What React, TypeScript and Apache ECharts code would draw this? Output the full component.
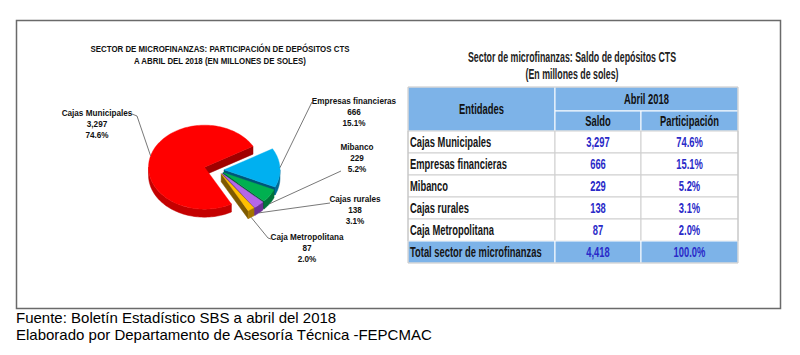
import React, { useEffect, useRef } from "react";
import * as echarts from "echarts";

// ---------------- data ----------------
const categories = ["Cajas Municipales", "Empresas financieras", "Mibanco", "Cajas rurales", "Caja Metropolitana"];
const saldo = [3297, 666, 229, 138, 87];
const participacion = [74.6, 15.1, 5.2, 3.1, 2.0];
const totalLabel = "Total sector de microfinanzas";
const totalSaldo = 4418;
const totalParticipacion = 100.0;
const pieTitle = ["SECTOR DE MICROFINANZAS: PARTICIPACIÓN DE DEPÓSITOS CTS", "A ABRIL DEL 2018 (EN MILLONES DE SOLES)"];
const tableTitle = ["Sector de microfinanzas: Saldo de depósitos CTS", "(En millones de soles)"];
const headerEntity = "Entidades";
const headerPeriod = "Abril 2018";
const headerSaldo = "Saldo";
const headerPart = "Participación";
const footerLines = ["Fuente: Boletín Estadístico SBS a abril del 2018", "Elaborado por Departamento de Asesoría Técnica -FEPCMAC"];

// ---------------- styles / layout ----------------
const sliceColors = ["#ff0000", "#00b0f0", "#00b050", "#b566e8", "#ffc000"];
const sideColors = ["#c40000", "#006b96", "#00743a", "#6e3196", "#a37500"];
const radialColors = ["#a00000", "#005478", "#005a2c", "#57247a", "#7e5a00"];
const PIE = { cx: 218, cy: 170, rx: 56, ry: 42, depth: 8, splitAngle: 30 };
const explodeDist = [14, 6, 6, 6, 6];
const labelCenters = [[97, 113], [354, 101], [357, 147], [355, 199], [307, 237]];
const leaderStarts = [[[132, 114], [137, 116]], [[312, 102]], [[341, 171]], [[330, 203]], [[271, 239], [268, 238]]];
const labelLineH = 10.8;
const FONT = "'Liberation Sans', Arial, sans-serif";

const T = { left: 408, c1: 555, c2: 641, right: 738, top: 87, h1: 111, h2: 131, rowH: 22 };
const headerBlue = "#7db3e8";
const valueBlue = "#2a2ac8";

const fmtInt = (v: number) => v.toLocaleString("en-US");
const fmtPct = (v: number) => v.toFixed(1) + "%";

const total = saldo.reduce((a, b) => a + b, 0);
const sliceSpans = (() => {
  let a = PIE.splitAngle + (saldo[0] / total) * 360;
  return saldo.map((v) => {
    const a1 = a;
    const a0 = a - (v / total) * 360;
    a = a0;
    return { a0, a1, mid: (a0 + a1) / 2 };
  });
})();

const rad = (d: number) => (d * Math.PI) / 180;

function renderSlice(params: any, api: any) {
  const i = params.dataIndex;
  const { a0, a1, mid } = sliceSpans[i];
  const e = explodeDist[i];
  const cx = PIE.cx + e * Math.cos(rad(mid));
  const cy = PIE.cy - e * Math.sin(rad(mid)) * (PIE.ry / PIE.rx);
  const P = (d: number, dy = 0) => [cx + PIE.rx * Math.cos(rad(d)), cy - PIE.ry * Math.sin(rad(d)) + dy];
  const arcPts = (lo: number, hi: number) => {
    const n = Math.max(3, Math.ceil((hi - lo) / 2));
    const out: number[] = [];
    for (let k = 0; k <= n; k++) out.push(lo + ((hi - lo) * k) / n);
    return out;
  };
  const children: any[] = [];
  // outer wall (front half only)
  for (let k = -2; k <= 2; k++) {
    const lo = Math.max(a0, 180 + 360 * k);
    const hi = Math.min(a1, 360 + 360 * k);
    if (hi > lo) {
      const angs = arcPts(lo, hi);
      const top = angs.map((d) => P(d));
      const bot = angs.slice().reverse().map((d) => P(d, PIE.depth));
      children.push({
        type: "polygon",
        z2: 3,
        shape: { points: top.concat(bot) },
        style: { fill: sideColors[i], stroke: sideColors[i], lineWidth: 0.5 },
      });
    }
  }
  // radial faces
  const radial = (d: number) => ({
    type: "polygon",
    z2: 2,
    shape: { points: [[cx, cy], P(d), P(d, PIE.depth), [cx, cy + PIE.depth]] },
    style: { fill: radialColors[i], stroke: radialColors[i], lineWidth: 0.5 },
  });
  if (Math.cos(rad(a0)) > 0) children.push(radial(a0));
  if (Math.cos(rad(a1)) < 0) children.push(radial(a1));
  // top face
  children.push({
    type: "polygon",
    z2: 10,
    shape: { points: [[cx, cy]].concat(arcPts(a0, a1).map((d) => P(d))) },
    style: { fill: sliceColors[i], stroke: sliceColors[i], lineWidth: 0.4 },
  });
  // leader line
  const anchor = P(mid, Math.sin(rad(mid)) < 0 ? PIE.depth : 0);
  children.push({
    type: "polyline",
    z2: 20,
    shape: { points: leaderStarts[i].concat([anchor]) },
    style: { stroke: "#555", lineWidth: 0.8, fill: null },
  });
  // label text
  const value = api.value(0);
  const lines = [categories[i], fmtInt(value), fmtPct(participacion[i])];
  lines.forEach((t, k) => {
    children.push({
      type: "text",
      z2: 21,
      x: labelCenters[i][0],
      y: labelCenters[i][1] + k * labelLineH,
      scaleX: 0.86,
      style: {
        text: t,
        fill: "#111",
        fontSize: 9.5,
        fontWeight: "bold",
        fontFamily: FONT,
        align: "center",
        verticalAlign: "middle",
        textAlign: "center",
        textVerticalAlign: "middle",
      },
    });
  });
  return { type: "group", children };
}

function txt(text: string, x: number, y: number, o: any = {}) {
  const align = o.align || "left";
  return {
    type: "text",
    x,
    y,
    scaleX: o.scaleX ?? 1,
    z: 10,
    style: {
      text,
      fill: o.fill || "#111",
      fontSize: o.fontSize || 12,
      fontWeight: o.fontWeight || "normal",
      fontFamily: o.fontFamily || FONT,
      align,
      verticalAlign: "middle",
      textAlign: align,
      textVerticalAlign: "middle",
    },
  };
}

function cell(x0: number, y0: number, x1: number, y1: number, fill: string, stroke: string) {
  return {
    type: "rect",
    z: 5,
    shape: { x: x0, y: y0, width: x1 - x0, height: y1 - y0 },
    style: { fill, stroke, lineWidth: 1 },
  };
}

function buildGraphic() {
  const els: any[] = [];
  // frame
  els.push({
    type: "rect",
    z: 1,
    shape: { x: 16.5, y: 20.5, width: 764, height: 288 },
    style: { fill: "#fff", stroke: "#6a6a6a", lineWidth: 1.5 },
  });
  // pie title
  pieTitle.forEach((t, k) =>
    els.push(txt(t, 220, 49 + k * 12, { align: "center", fontSize: 9.5, fontWeight: "bold", scaleX: 0.83 }))
  );
  // table title
  tableTitle.forEach((t, k) =>
    els.push(txt(t, 572, 57 + k * 17, { align: "center", fontSize: 14, fontWeight: "bold", scaleX: 0.63, fill: "#222" }))
  );
  const TS = 0.67;
  const TF = 14;
  // header
  els.push(cell(T.left, T.top, T.c1, T.h2, headerBlue, "#ffffff"));
  els.push(cell(T.c1, T.top, T.right, T.h1, headerBlue, "#ffffff"));
  els.push(cell(T.c1, T.h1, T.c2, T.h2, headerBlue, "#ffffff"));
  els.push(cell(T.c2, T.h1, T.right, T.h2, headerBlue, "#ffffff"));
  els.push(txt(headerEntity, (T.left + T.c1) / 2, (T.top + T.h2) / 2, { align: "center", fontSize: TF, fontWeight: "bold", scaleX: TS }));
  els.push(txt(headerPeriod, (T.c1 + T.right) / 2, (T.top + T.h1) / 2, { align: "center", fontSize: TF, fontWeight: "bold", scaleX: TS }));
  els.push(txt(headerSaldo, (T.c1 + T.c2) / 2, (T.h1 + T.h2) / 2, { align: "center", fontSize: TF, fontWeight: "bold", scaleX: TS }));
  els.push(txt(headerPart, (T.c2 + T.right) / 2, (T.h1 + T.h2) / 2, { align: "center", fontSize: TF, fontWeight: "bold", scaleX: TS }));
  // body rows
  const rows = categories.map((c, i) => ({ label: c, s: fmtInt(saldo[i]), p: fmtPct(participacion[i]), total: false }));
  rows.push({ label: totalLabel, s: fmtInt(totalSaldo), p: fmtPct(totalParticipacion), total: true });
  rows.forEach((r, i) => {
    const y0 = T.h2 + i * T.rowH;
    const y1 = y0 + T.rowH;
    const fill = r.total ? headerBlue : "#ffffff";
    const stroke = r.total ? "#ffffff" : "#cfcfcf";
    els.push(cell(T.left, y0, T.c1, y1, fill, stroke));
    els.push(cell(T.c1, y0, T.c2, y1, fill, stroke));
    els.push(cell(T.c2, y0, T.right, y1, fill, stroke));
    const ym = (y0 + y1) / 2;
    els.push(txt(r.label, T.left + 2, ym, { fontSize: TF, fontWeight: "bold", scaleX: TS, fill: "#151515" }));
    els.push(txt(r.s, (T.c1 + T.c2) / 2, ym, { align: "center", fontSize: TF, fontWeight: "bold", scaleX: TS, fill: valueBlue }));
    els.push(txt(r.p, (T.c2 + T.right) / 2, ym, { align: "center", fontSize: TF, fontWeight: "bold", scaleX: TS, fill: valueBlue }));
  });
  // table outer border
  els.push({
    type: "rect",
    z: 6,
    shape: { x: T.left, y: T.top, width: T.right - T.left, height: T.h2 + rows.length * T.rowH - T.top },
    style: { fill: null, stroke: "#c4c4c4", lineWidth: 1 },
  });
  // footer
  footerLines.forEach((t, k) => els.push(txt(t, 16, 317 + k * 17.5, { fontSize: 15, fill: "#000" })));
  return els;
}

export default function App() {
  const ref = useRef<HTMLDivElement>(null);
  useEffect(() => {
    if (!ref.current) return;
    const chart = echarts.init(ref.current, null, { renderer: "svg" });
    chart.setOption({
      animation: false,
      backgroundColor: "#ffffff",
      graphic: { elements: buildGraphic() },
      series: [
        {
          type: "custom",
          coordinateSystem: "none",
          z: 8,
          renderItem: renderSlice,
          data: categories.map((n, i) => ({ name: n, value: saldo[i] })),
        },
      ],
    });
    return () => chart.dispose();
  }, []);
  return <div ref={ref} style={{ position: "fixed", left: 0, top: 0, width: 800, height: 355 }} />;
}
